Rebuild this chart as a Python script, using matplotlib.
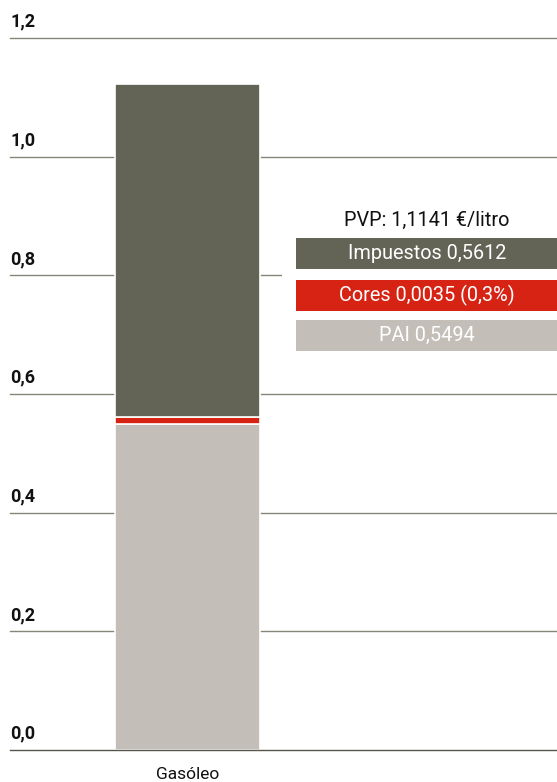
import matplotlib
matplotlib.use("Agg")
import matplotlib.pyplot as plt
from matplotlib.patches import Rectangle

# ---- data ----
categories = ["Gasóleo"]
pai = [0.5494]
cores = [0.0035]
impuestos = [0.5612]
pvp_label = "PVP: 1,1141 €/litro"
legend_labels = ["Impuestos 0,5612", "Cores 0,0035 (0,3%)", "PAI 0,5494"]
yticks = [0.0, 0.2, 0.4, 0.6, 0.8, 1.0, 1.2]
ytick_labels = ["0,0", "0,2", "0,4", "0,6", "0,8", "1,0", "1,2"]

# ---- style ----
C_IMP = "#646456"
C_CORES = "#d62314"
C_PAI = "#c3bfb8"
C_GRID = "#85857a"
FONT = ["Roboto", "DejaVu Sans"]
MIN_VIS = 0.0125  # minimum visible height for very thin segments

plt.rcParams["font.family"] = FONT

W, H = 557, 782
fig = plt.figure(figsize=(W / 100, H / 100), dpi=100)
ax = fig.add_axes([0, 32 / H, 1, 712 / H])
ax.set_ylim(0, 1.2)
ax.set_xlim(-0.6466, 1.274)
ax.axis("off")

# gridlines + labels
for v, lab in zip(yticks, ytick_labels):
    ax.axhline(v, xmin=10 / W, xmax=1, color=("#55554a" if v == 0 else C_GRID),
               lw=1.0, zorder=(3 if v == 0 else 1), clip_on=False)
    ax.text(10 / W, v + 0.012, lab, transform=ax.get_yaxis_transform(),
            ha="left", va="bottom", fontsize=13, fontweight="bold", color="#111111")

x = range(len(categories))
cores_vis = [max(c, MIN_VIS) for c in cores]
EW = 1.2
ax.bar(x, pai, width=0.5, color=C_PAI, edgecolor="white", lw=EW, zorder=2)
bottoms2 = pai
ax.bar(x, cores_vis, bottom=bottoms2, width=0.5, color=C_CORES, edgecolor="white",
       lw=EW, zorder=2)
bottoms3 = [p + c for p, c in zip(pai, cores_vis)]
ax.bar(x, impuestos, bottom=bottoms3, width=0.5, color=C_IMP, edgecolor="white",
       lw=EW, zorder=2)

# category label
for xi, c in zip(x, categories):
    ax.text(xi, -0.029, c, ha="center", va="top", fontsize=12.5, color="#111111")

# legend block (figure pixel coordinates)
def fx(px):
    return px / W

def fy(py):
    return 1 - py / H

fig.patches.append(Rectangle((fx(282), fy(327)), fx(557) - fx(282), fy(205) - fy(327),
                             transform=fig.transFigure, facecolor="white",
                             edgecolor="none", zorder=3))
fig.text(fx(427), fy(220), pvp_label, ha="center", va="center", fontsize=14.3,
         color="#111111", zorder=5)
box_tops = [238, 280, 320]
box_cols = [C_IMP, C_CORES, C_PAI]
for top, col, lab in zip(box_tops, box_cols, legend_labels):
    fig.patches.append(Rectangle((fx(296), fy(top + 31)), fx(557) - fx(296), 31 / H,
                                 transform=fig.transFigure, facecolor=col,
                                 edgecolor="none", zorder=4))
    fig.text(fx(427), fy(top + 15.5), lab, ha="center", va="center", fontsize=14.3,
             color="white", zorder=5)

fig.savefig("out.png", dpi=100)
